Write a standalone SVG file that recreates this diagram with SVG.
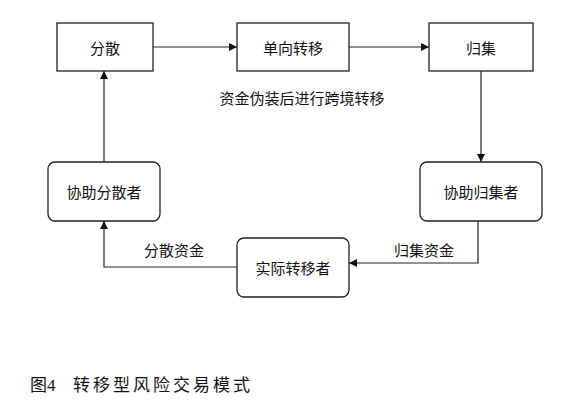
<svg xmlns="http://www.w3.org/2000/svg" width="568" height="415" viewBox="0 0 568 415">
<style>
.box{fill:#fff;stroke:#222;stroke-width:1.3}
.t{font-family:"Noto Sans CJK SC","Noto Sans",sans-serif;font-size:15px;fill:#111;text-anchor:middle;dominant-baseline:central}
.line{fill:none;stroke:#222;stroke-width:1.2}
.cap{font-family:"Liberation Serif","Noto Sans CJK SC",serif;font-size:17px;fill:#111}
</style>
<defs>
<marker id="ah" viewBox="0 0 10 10" refX="10" refY="5" markerWidth="8" markerHeight="8" markerUnits="userSpaceOnUse" orient="auto">
<path d="M0,0 L10,5 L0,10 z" fill="#111"/>
</marker>
</defs>
<rect width="568" height="415" fill="#fff"/>
<g id="n1"><rect class="box" x="57" y="23" width="96" height="48"/><text class="t" x="105" y="47">分散</text></g>
<g id="n2"><rect class="box" x="237" y="23" width="112" height="48"/><text class="t" x="293" y="47">单向转移</text></g>
<g id="n3"><rect class="box" x="429" y="23" width="104" height="48"/><text class="t" x="481" y="47">归集</text></g>
<g id="n4"><rect class="box" x="420" y="162" width="122" height="59" rx="7"/><text class="t" x="481" y="191">协助归集者</text></g>
<g id="n5"><rect class="box" x="237" y="238" width="112" height="59" rx="7"/><text class="t" x="293" y="267">实际转移者</text></g>
<g id="n6"><rect class="box" x="48" y="162" width="112" height="59" rx="7"/><text class="t" x="104" y="191">协助分散者</text></g>
<g id="connectors">
<path class="line" d="M153,47 H237" marker-end="url(#ah)"/>
<path class="line" d="M349,47 H429" marker-end="url(#ah)"/>
<path class="line" d="M481,71 V162" marker-end="url(#ah)"/>
<path class="line" d="M478,221 V263 H349" marker-end="url(#ah)"/>
<path class="line" d="M237,267 H104 V221" marker-end="url(#ah)"/>
<path class="line" d="M104,162 V71" marker-end="url(#ah)"/>
</g>
<text class="t" x="302" y="97">资金伪装后进行跨境转移</text>
<text class="t" x="424" y="249">归集资金</text>
<text class="t" x="174" y="249">分散资金</text>
<text class="cap" x="30" y="391">图4<tspan x="73" style="letter-spacing:3px">转移型风险交易模式</tspan></text>
</svg>
